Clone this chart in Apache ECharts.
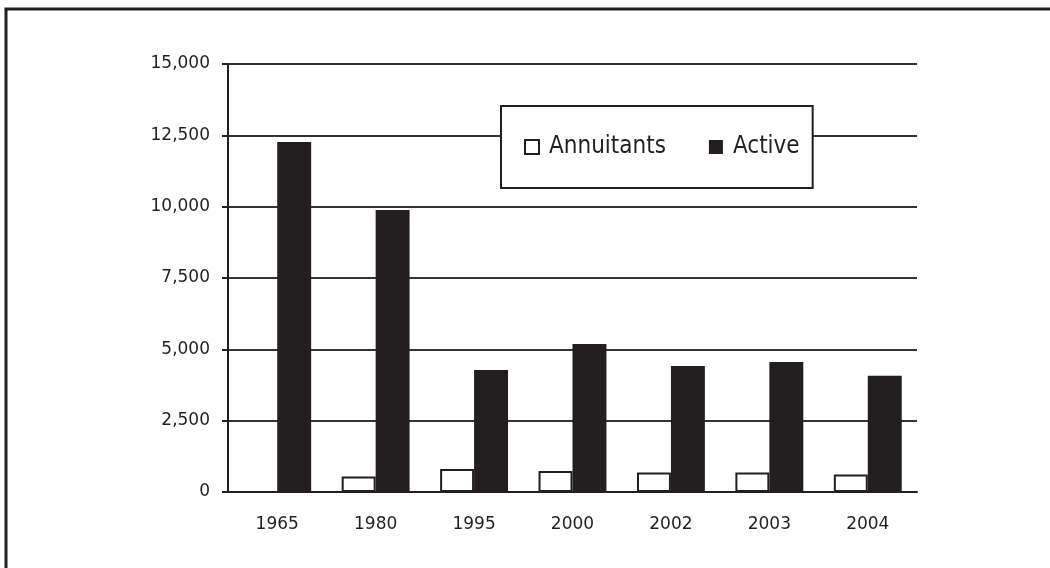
<!DOCTYPE html>
<html>
<head>
<meta charset="utf-8">
<script src="https://cdn.jsdelivr.net/npm/echarts@6/dist/echarts.min.js"></script>
<style>
  html, body { margin: 0; padding: 0; background: #fff; }
  #chart { width: 1050px; height: 568px; }
</style>
</head>
<body>
<div id="chart"></div>
<script>
var years = ['1965', '1980', '1995', '2000', '2002', '2003', '2004']
var annuitants = [0, 540, 810, 740, 680, 680, 610]
var active = [12270, 9880, 4280, 5190, 4420, 4560, 4070]

var ink = '#231f20'
var chart = echarts.init(document.getElementById('chart'))

chart.setOption({
    animation: false,
    backgroundColor: '#fff',
    textStyle: { fontFamily: 'DejaVu Sans' },
    graphic: [{
        type: 'rect',
        shape: { x: 6, y: 9, width: 1100, height: 600 },
        style: { fill: 'none', stroke: ink, lineWidth: 3 },
        silent: true
    }],
    grid: { left: 228, right: 133, top: 64, bottom: 76 },
    legend: {
        left: 501,
        top: 106,
        padding: [29, 13, 29, 23],
        borderColor: ink,
        borderWidth: 2,
        backgroundColor: '#fff',
        itemWidth: 14,
        itemHeight: 14,
        itemGap: 43,
        icon: 'rect',
        textStyle: {
            fontFamily: 'DejaVu Sans Condensed', fontSize: 24, color: ink,
            padding: [0, 0, 0, 5]
        },
        data: ['Annuitants', 'Active']
    },
    xAxis: {
        type: 'category',
        data: years,
        axisLine: { lineStyle: { color: ink, width: 2 } },
        axisTick: { length: 8, lineStyle: { color: ink, width: 2 } },
        axisLabel: { color: ink, fontSize: 17, margin: 24 }
    },
    yAxis: {
        type: 'value',
        min: 0,
        max: 15000,
        interval: 2500,
        axisLine: { show: true, lineStyle: { color: ink, width: 2 } },
        axisTick: { show: true, length: 6, lineStyle: { color: ink, width: 2 } },
        axisLabel: {
            color: ink, fontSize: 17, margin: 18,
            formatter: function(v) { return v.toLocaleString('en-US') }
        },
        splitLine: { lineStyle: { color: '#333', width: 2 } }
    },
    series: [{
        name: 'Annuitants',
        type: 'bar',
        data: annuitants,
        barGap: '0%',
        barCategoryGap: '31%',
        itemStyle: { color: '#fff', borderColor: ink, borderWidth: 2 }
    }, {
        name: 'Active',
        type: 'bar',
        data: active,
        itemStyle: { color: ink }
    }]
})
</script>
</body>
</html>
